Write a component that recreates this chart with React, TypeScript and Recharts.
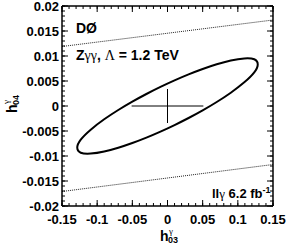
import React from 'react';
import { ComposedChart, Line, XAxis, YAxis } from 'recharts';

const xMajorTicks = [-0.15, -0.1, -0.05, 0, 0.05, 0.1, 0.15];
const yMajorTicks = [-0.02, -0.015, -0.01, -0.005, 0, 0.005, 0.01, 0.015, 0.02];
const xMinorTicks = [
  -0.15, -0.14, -0.13, -0.12, -0.11, -0.1, -0.09, -0.08, -0.07, -0.06, -0.05,
  -0.04, -0.03, -0.02, -0.01, 0, 0.01, 0.02, 0.03, 0.04, 0.05, 0.06, 0.07,
  0.08, 0.09, 0.1, 0.11, 0.12, 0.13, 0.14, 0.15,
];
const yMinorTicks = [
  -0.02, -0.019, -0.018, -0.017, -0.016, -0.015, -0.014, -0.013, -0.012, -0.011,
  -0.01, -0.009, -0.008, -0.007, -0.006, -0.005, -0.004, -0.003, -0.002, -0.001,
  0, 0.001, 0.002, 0.003, 0.004, 0.005, 0.006, 0.007, 0.008, 0.009, 0.01,
  0.011, 0.012, 0.013, 0.014, 0.015, 0.016, 0.017, 0.018, 0.019, 0.02,
];

// 95% C.L. contour (closed loop)
const contour = [
  { x: -0.13, y: -0.0084 },
  { x: -0.125, y: -0.0068 },
  { x: -0.11, y: -0.00474 },
  { x: -0.09, y: -0.00261 },
  { x: -0.07, y: -0.00077 },
  { x: -0.05, y: 0.0009 },
  { x: -0.03, y: 0.00242 },
  { x: -0.01, y: 0.00383 },
  { x: 0.01, y: 0.00514 },
  { x: 0.03, y: 0.00634 },
  { x: 0.05, y: 0.00742 },
  { x: 0.07, y: 0.00837 },
  { x: 0.09, y: 0.00915 },
  { x: 0.11, y: 0.00962 },
  { x: 0.125, y: 0.00951 },
  { x: 0.13, y: 0.0084 },
  { x: 0.125, y: 0.0068 },
  { x: 0.11, y: 0.00474 },
  { x: 0.09, y: 0.00261 },
  { x: 0.07, y: 0.00077 },
  { x: 0.05, y: -0.0009 },
  { x: 0.03, y: -0.00242 },
  { x: 0.01, y: -0.00383 },
  { x: -0.01, y: -0.00514 },
  { x: -0.03, y: -0.00634 },
  { x: -0.05, y: -0.00742 },
  { x: -0.07, y: -0.00837 },
  { x: -0.09, y: -0.00915 },
  { x: -0.11, y: -0.00962 },
  { x: -0.125, y: -0.00951 },
];

// unitarity bounds
const upperBound = [
  { x: -0.15, y: 0.0119 },
  { x: 0.15, y: 0.0172 },
];
const lowerBound = [
  { x: -0.15, y: -0.0171 },
  { x: 0.15, y: -0.0117 },
];

// SM point with error cross
const crossH = [
  { x: -0.051, y: 0 },
  { x: 0.051, y: 0 },
];
const crossV = [
  { x: 0, y: -0.0034 },
  { x: 0, y: 0.0034 },
];

const FONT = '"Liberation Sans", Arial, Helvetica, sans-serif';
const SERIF = '"Liberation Serif", "Times New Roman", serif';
const X_MIN = -0.15;
const X_MAX = 0.15;
const Y_MIN = -0.02;
const Y_MAX = 0.02;
const xDomain: [number, number] = [X_MIN, X_MAX];
const yDomain: [number, number] = [Y_MIN, Y_MAX];

// chart geometry (shared by the chart and the frame decoration)
const W = 288;
const H = 245;
const MARGIN = { top: 6, right: 15, bottom: 19, left: 0 };
const Y_AXIS_W = 62;
const X_AXIS_H = 20;
const PLOT = {
  left: MARGIN.left + Y_AXIS_W,
  top: MARGIN.top,
  width: W - MARGIN.left - Y_AXIS_W - MARGIN.right,
  height: H - MARGIN.top - MARGIN.bottom - X_AXIS_H,
};
const sx = (v: number) => PLOT.left + ((v - X_MIN) / (X_MAX - X_MIN)) * PLOT.width;
const sy = (v: number) => PLOT.top + ((Y_MAX - v) / (Y_MAX - Y_MIN)) * PLOT.height;

const MAJ = 6;
const MIN = 3;

const tickStyle = { fontFamily: FONT, fontWeight: 700, fontSize: 13, fill: '#000' };

function FrameTicks() {
  const L = PLOT.left;
  const R = PLOT.left + PLOT.width;
  const T = PLOT.top;
  const B = PLOT.top + PLOT.height;
  const segs: React.ReactNode[] = [];
  const seg = (k: string, x1: number, y1: number, x2: number, y2: number, w = 1) => (
    <line key={k} x1={x1} y1={y1} x2={x2} y2={y2} stroke="#000" strokeWidth={w} />
  );
  xMinorTicks.forEach((v, i) => {
    const x = sx(v);
    segs.push(seg(`bm${i}`, x, B, x, B - MIN));
    segs.push(seg(`tm${i}`, x, T, x, T + MIN));
  });
  xMajorTicks.forEach((v, i) => {
    const x = sx(v);
    segs.push(seg(`bM${i}`, x, B, x, B - MAJ));
    segs.push(seg(`tM${i}`, x, T, x, T + MAJ));
  });
  yMinorTicks.forEach((v, i) => {
    const y = sy(v);
    segs.push(seg(`lm${i}`, L, y, L + MIN, y));
    segs.push(seg(`rm${i}`, R, y, R - MIN, y));
  });
  yMajorTicks.forEach((v, i) => {
    const y = sy(v);
    segs.push(seg(`lM${i}`, L, y, L + MAJ, y));
    segs.push(seg(`rM${i}`, R, y, R - MAJ, y));
  });
  segs.push(seg('frameTop', L, T, R, T, 1.5));
  segs.push(seg('frameRight', R, T, R, B, 1.5));
  return <g>{segs}</g>;
}

export default function App() {
  return (
    <div style={{ position: 'absolute', left: 0, top: 0, width: W, height: H, background: '#fff' }}>
      <ComposedChart width={W} height={H} margin={MARGIN}>
        <XAxis
          xAxisId="main"
          dataKey="x"
          type="number"
          domain={xDomain}
          ticks={xMajorTicks}
          interval={0}
          height={X_AXIS_H}
          tickSize={0}
          tickMargin={9}
          tickLine={false}
          axisLine={{ stroke: '#000', strokeWidth: 1.5 }}
          tick={tickStyle}
        />
        <YAxis
          yAxisId="main"
          dataKey="y"
          type="number"
          domain={yDomain}
          ticks={yMajorTicks}
          interval={0}
          width={Y_AXIS_W}
          tickSize={0}
          tickMargin={3}
          tickLine={false}
          axisLine={{ stroke: '#000', strokeWidth: 1.5 }}
          tick={tickStyle}
        />

        <Line xAxisId="main" yAxisId="main" data={upperBound} dataKey="y" type="linear"
          stroke="#222" strokeWidth={1} strokeDasharray="1 1" dot={false} activeDot={false}
          isAnimationActive={false} />
        <Line xAxisId="main" yAxisId="main" data={lowerBound} dataKey="y" type="linear"
          stroke="#222" strokeWidth={1} strokeDasharray="1 1" dot={false} activeDot={false}
          isAnimationActive={false} />
        <Line xAxisId="main" yAxisId="main" data={crossH} dataKey="y" type="linear"
          stroke="#000" strokeWidth={1} dot={false} activeDot={false} isAnimationActive={false} />
        <Line xAxisId="main" yAxisId="main" data={crossV} dataKey="y" type="linear"
          stroke="#000" strokeWidth={1} dot={false} activeDot={false} isAnimationActive={false} />
        <Line xAxisId="main" yAxisId="main" data={contour} dataKey="y" type="basisClosed"
          stroke="#000" strokeWidth={2} dot={false} activeDot={false} isAnimationActive={false} />
      </ComposedChart>

      <svg width={W} height={H} style={{ position: 'absolute', left: 0, top: 0, pointerEvents: 'none' }}>
        <FrameTicks />

        <text x={76} y={33} fontFamily={FONT} fontWeight={700} fontSize={14} fill="#000">DØ</text>
        <text x={76} y={60} fontFamily={FONT} fontWeight={700} fontSize={14} fill="#000">
          Z<tspan fontFamily={SERIF} fontWeight={400}>γγ</tspan>, <tspan fontFamily={SERIF} fontWeight={400}>Λ</tspan> = 1.2 TeV
        </text>
        <text x={212} y={198} fontFamily={FONT} fontWeight={700} fontSize={13} fill="#000">
          ll<tspan fontFamily={SERIF} fontWeight={400}>γ</tspan> 6.2 fb<tspan fontSize={9} dy={-5}>-1</tspan>
        </text>

        <text x={160} y={241} fontFamily={FONT} fontWeight={700} fontSize={14} fill="#000">h</text>
        <text x={168} y={242.5} fontFamily={FONT} fontWeight={700} fontSize={9} fill="#000">03</text>
        <text x={169} y={234} fontFamily={SERIF} fontSize={9} fill="#000">γ</text>

        <g transform="translate(17,113) rotate(-90)">
          <text x={0} y={0} fontFamily={FONT} fontWeight={700} fontSize={14} fill="#000">h</text>
          <text x={8} y={1.5} fontFamily={FONT} fontWeight={700} fontSize={9} fill="#000">04</text>
          <text x={9} y={-8} fontFamily={SERIF} fontSize={9} fill="#000">γ</text>
        </g>
      </svg>
    </div>
  );
}
